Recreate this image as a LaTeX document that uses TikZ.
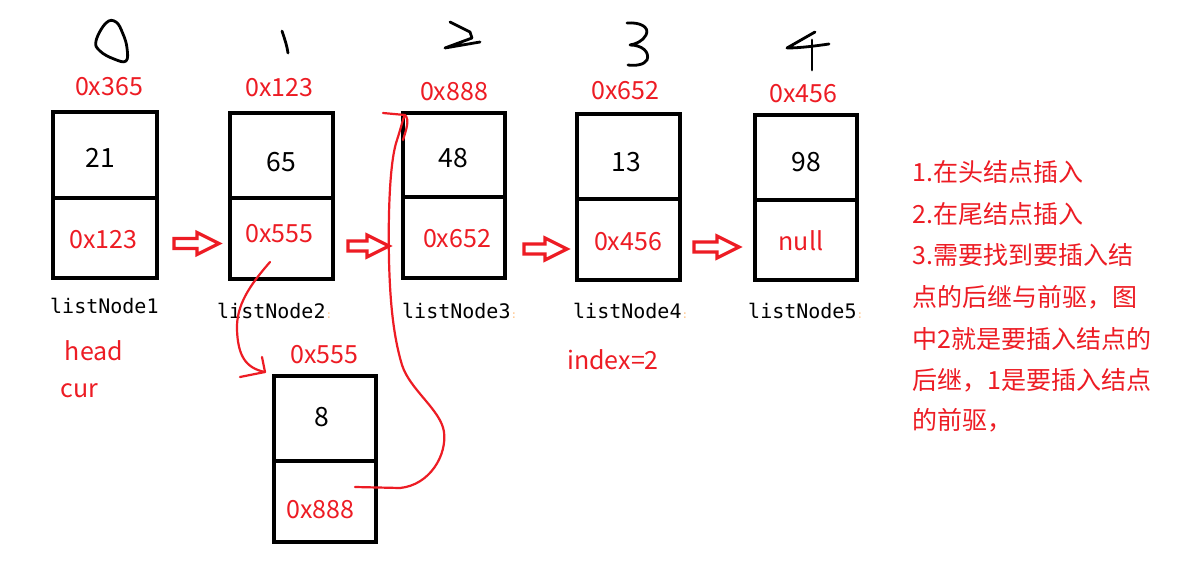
\documentclass[tikz,border=0pt]{standalone}
\usepackage{fontspec}
\setmainfont{Noto Sans CJK SC}
\newfontfamily\monofnt{DejaVu Sans Mono}
\usetikzlibrary{calc}
\definecolor{myred}{RGB}{237,28,36}
\newcommand\blockarr[4]{% name, x start, x end, y centre
  \coordinate (#1s) at (#2,#4);
  \coordinate (#1e) at (#3,#4);
  \draw[barrow] ($(#1s)+(0,-5)$) -- ($(#1e)+(-22,-5)$) -- ($(#1e)+(-22,-11)$) -- (#1e)
    -- ($(#1e)+(-22,11)$) -- ($(#1e)+(-22,5)$) -- ($(#1s)+(0,5)$) -- cycle;}
\begin{document}
\begin{tikzpicture}[x=1pt,y=-1pt,
  cell/.style={draw=black, line width=3.2pt, inner sep=0pt},
  addr/.style={text=myred, font=\fontsize{25}{30}\selectfont, inner sep=0pt},
  val/.style={text=black, font=\fontsize{26.5}{30}\selectfont, inner sep=0pt},
  lbl/.style={text=black, font=\monofnt\fontsize{20}{24}\selectfont, inner sep=0pt, anchor=west},
  curve/.style={draw=myred, line width=2.2pt, line cap=round, line join=round},
  hand/.style={draw=black, line width=2.8pt, line cap=round, line join=round},
  barrow/.style={draw=myred, line width=3.2pt, line join=miter},
  note/.style={text=myred, font=\fontsize{25}{30}\selectfont, anchor=west, inner sep=0pt}]
\useasboundingbox[fill=white] (0,0) rectangle (1198,580);

% handwritten indices
\draw[hand] plot[smooth cycle, tension=0.7] coordinates {(106,23) (116,22) (123,34) (127,48) (126,61) (114,59) (100,51) (96,41)};
\draw[hand] (282,31) .. controls (285,40) and (287,46) .. (288,53);
\draw[hand] (450,22) -- (470,32) -- (472,38) -- (445,48) -- (480,42);
\draw[hand] (627,23) .. controls (640,22) and (650,27) .. (646,35) .. controls (643,41) and (636,44) .. (630,45)
  .. controls (642,45) and (650,52) .. (647,60) .. controls (644,65) and (635,66) .. (628,65);
\draw[hand] (815,32) -- (787,48) .. controls (800,48) and (815,46) .. (829,44);
\draw[hand] (812,40) -- (812,70);

% list nodes (value cell v, pointer cell p)
\node[cell, minimum width=104, minimum height=86] (v1) at (105,155) {};
\node[cell, minimum width=104, minimum height=80] (p1) at (105,238) {};
\node[cell, minimum width=103, minimum height=85] (v2) at (281.5,155.5) {};
\node[cell, minimum width=103, minimum height=81] (p2) at (281.5,238.5) {};
\node[cell, minimum width=102, minimum height=84] (v3) at (454,155) {};
\node[cell, minimum width=102, minimum height=81] (p3) at (454,237.5) {};
\node[cell, minimum width=103, minimum height=85] (v4) at (628.5,156.5) {};
\node[cell, minimum width=103, minimum height=81] (p4) at (628.5,239.5) {};
\node[cell, minimum width=102, minimum height=85] (v5) at (806,157.5) {};
\node[cell, minimum width=102, minimum height=80] (p5) at (806,240) {};
\node[cell, minimum width=102, minimum height=85] (v6) at (325,418.5) {};
\node[cell, minimum width=102, minimum height=81] (p6) at (325,501.5) {};

% cell contents
\node[val] (t21) at (100.5,158) {21};
\node[val] (t65) at (281,162) {65};
\node[val] (t48) at (453,158) {48};
\node[val] (t13) at (626,162) {13};
\node[val] (t98) at (806,162) {98};
\node[val] (t8) at (321.5,417.5) {8};
\node[addr] (q1) at (103.5,240) {0x123};
\node[addr] (q2) at (279.5,234) {0x555};
\node[addr] (q3) at (457,239) {0x652};
\node[addr] (q4) at (628,242) {0x456};
\node[addr] (q5) at (801,241) {null};
\node[addr] (q6) at (320.5,509.5) {0x888};

% addresses above
\node[addr] (a1) at (109,87) {0x365};
\node[addr] (a2) at (279.5,88) {0x123};
\node[addr] (a3) at (454,91.5) {0x888};
\node[addr] (a4) at (625.5,90.5) {0x652};
\node[addr] (a5) at (803.5,93.5) {0x456};
\node[addr] (a6) at (324.5,354.5) {0x555};

% names
\node[lbl] (n1) at (50,305.5) {listNode1};
\node[lbl] (n2) at (217,310.5) {listNode2\textcolor{orange!45}{\fontsize{11}{11}\selectfont:}};
\node[lbl] (n3) at (402,310.5) {listNode3\textcolor{orange!45}{\fontsize{11}{11}\selectfont:}};
\node[lbl] (n4) at (573,310.5) {listNode4\textcolor{orange!45}{\fontsize{11}{11}\selectfont:}};
\node[lbl] (n5) at (748,310.5) {listNode5\textcolor{orange!45}{\fontsize{11}{11}\selectfont:}};

\node[addr] (head) at (94,351) {head};
\node[addr] (cur) at (79.5,390.5) {cur};
\node[addr] (idx) at (613,360) {index=2};

% block arrows between nodes
\blockarr{ar1}{174}{219}{243.5}
\blockarr{ar2}{348}{389}{246}
\blockarr{ar3}{524}{567}{249}
\blockarr{ar4}{694}{739}{247}

% hand-drawn insertion curves
\coordinate (c1s) at (270,262);
\coordinate (c1e) at (265,372);
\draw[curve] (c1s) .. controls (250,285) and (236,305) .. (237,330)
  .. controls (238,355) and (245,368) .. (c1e);
\draw[curve] (262,357) -- (c1e) -- (240,377);

\coordinate (c2s) at (355,487);
\coordinate (c2e) at (405,115);
\draw[curve] (c2s) -- (400,488) .. controls (430,485) and (447,455) .. (444,432)
  .. controls (441,410) and (410,390) .. (402,365)
  .. controls (393,335) and (390,300) .. (389,260)
  .. controls (388,210) and (390,160) .. (397,140)
  .. controls (401,128) and (403,118) .. (c2e)
  .. controls (410,120) and (406,130) .. (403,140);
\draw[curve] (383,113) -- (c2e);

% notes
\node[note] (l1) at (912,172) {1.在头结点插入};
\node[note] (l2) at (912,214) {2.在尾结点插入};
\node[note] (l3) at (912,255) {3.需要找到要插入结};
\node[note] (l4) at (912,297.5) {点的后继与前驱，图};
\node[note] (l5) at (912,339) {中2就是要插入结点的};
\node[note] (l6) at (912,380) {后继，1是要插入结点};
\node[note] (l7) at (912,420) {的前驱，};
\end{tikzpicture}
\end{document}
